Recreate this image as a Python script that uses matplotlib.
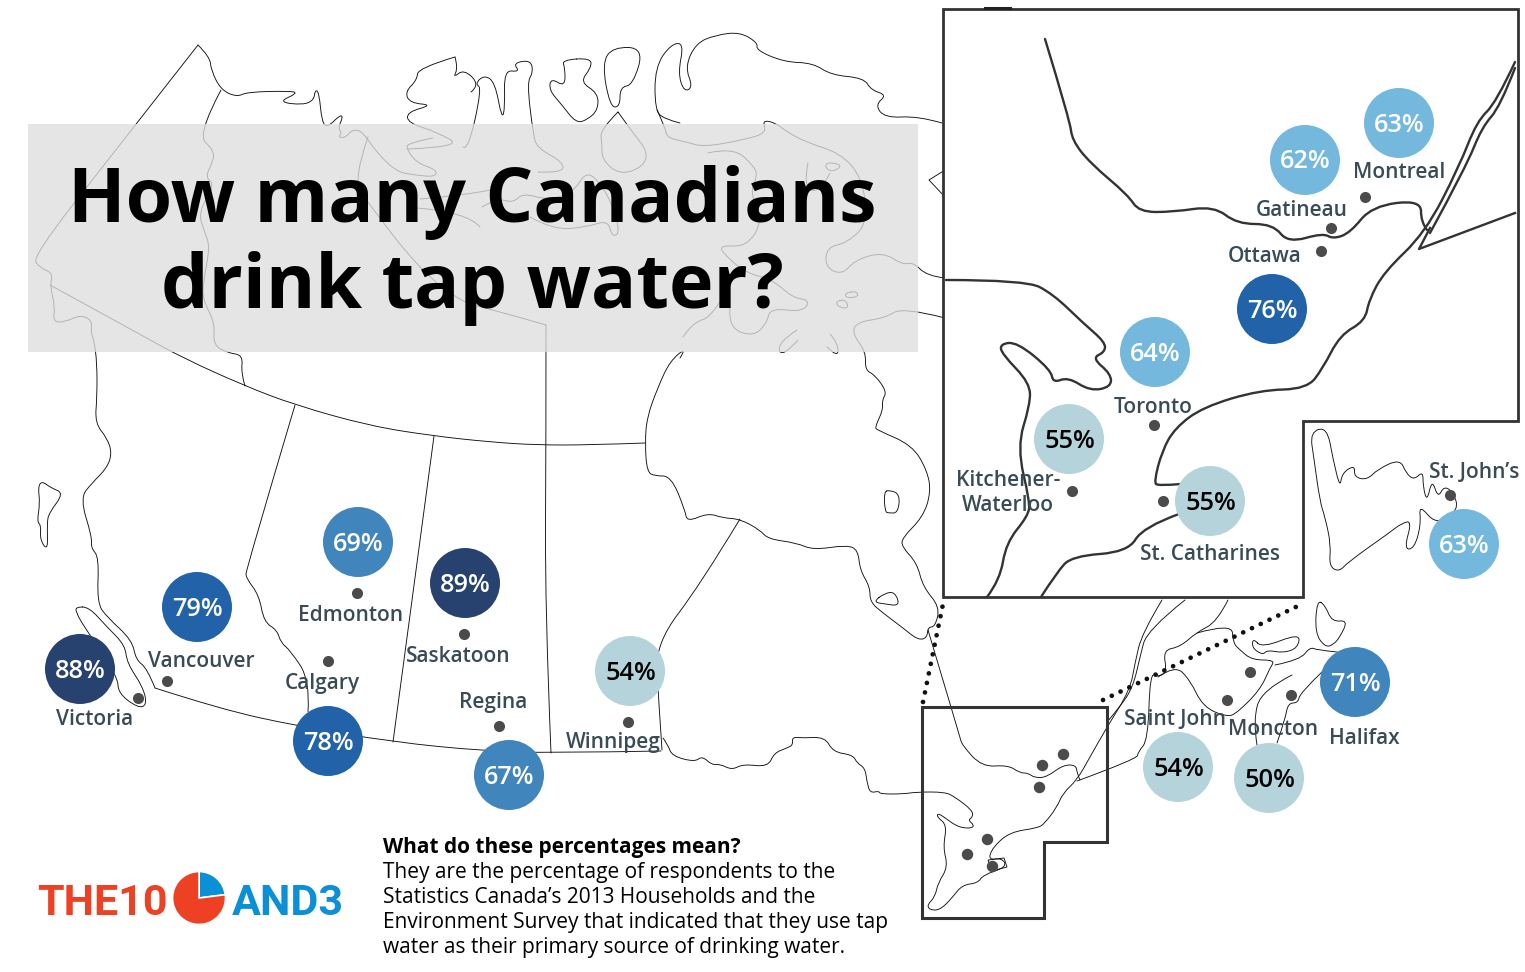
import matplotlib
matplotlib.use("Agg")
import matplotlib.pyplot as plt
from matplotlib.patches import Polygon, Rectangle, PathPatch
from matplotlib.path import Path

plt.rcParams['font.family'] = ['Open Sans', 'DejaVu Sans']

# cities
cities = ["Victoria", "Vancouver", "Calgary", "Edmonton", "Saskatoon", "Regina", "Winnipeg",
          "Gatineau", "Montreal", "Ottawa", "Toronto", "Kitchener-\nWaterloo", "St. Catharines",
          "St. John\u2019s", "Saint John", "Moncton", "Halifax"]
pct = [88, 79, 78, 69, 89, 67, 54, 62, 63, 76, 64, 55, 55, 63, 54, 50, 71]
bubble_x = [80, 197, 328, 358, 465, 509, 630, 1305, 1399, 1272, 1155, 1069, 1210, 1464, 1178, 1269, 1355]
bubble_y = [669, 607, 741, 542, 583, 775, 671, 160, 123, 309, 352, 439, 501, 544, 767, 778, 682]
dot_x = [138, 167, 328, 357, 464, 499, 628, 1331, 1365, 1321, 1154, 1072, 1163, 1450, 1250, 1227, 1291]
dot_y = [698, 681, 661, 593, 634, 726, 722, 228, 197, 251, 425, 491, 501, 495, 672, 700, 695]
label_x = [95, 201, 322, 351, 458, 493, 613, 1302, 1399, 1265, 1153, 1008, 1210, 1474, 1175, 1273, 1364]
label_y = [717, 659, 681, 613, 654, 700, 740, 208, 171, 254, 405, 491, 552, 470, 717, 727, 736]

# dots on the small locator map
small_x = [1063, 1042, 1039, 987, 967, 992]
small_y = [754, 765, 787, 839, 854, 866]

logo_shares = [23, 77]

# main map outlines
north_bc = [(50, 285), (143, 336), (183, 358), (245, 386), (295, 405), (370, 426), (434, 436), (490, 442), (536, 445), (590, 445), (645, 443)]
alaska = [(198, 45), (115, 151), (32, 257), (40, 268), (53, 273), (50, 285), (55, 307), (53, 322), (65, 322), (80, 315), (92, 320), (91, 333), (94, 340),
          (97, 363), (97, 397), (95, 423), (107, 438), (112, 453), (107, 468), (92, 483), (80, 498), (92, 537), (91, 548), (99, 557),
          (97, 603), (107, 617), (132, 640), (136, 660), (147, 668), (155, 688)]
border_49 = [(155, 688), (220, 709), (297, 726), (393, 742), (484, 751), (551, 753), (661, 751)]
arctic_west = [(198, 45), (210, 57), (211, 70), (221, 90), (237, 97), (247, 92), (290, 91), (298, 93), (278, 102), (303, 105), (314, 100),
               (315, 90), (319, 92), (322, 123), (328, 127), (340, 115), (343, 117), (338, 128), (342, 133), (338, 137), (345, 138),
               (353, 129), (363, 132), (377, 153), (397, 172), (415, 175), (435, 177), (437, 170), (417, 163), (407, 150), (407, 143), (433, 138)]
yukon = [(221, 90), (197, 135), (214, 150), (213, 162), (205, 177), (215, 185), (198, 212), (205, 233), (210, 247), (203, 283), (203, 300),
         (215, 323), (213, 345), (228, 353), (243, 355), (241, 373), (245, 386)]
nunavut = [(368, 137), (353, 180), (368, 203), (420, 270), (463, 303), (487, 308), (546, 325)]
sask_man = [(546, 325), (546, 445), (545, 607), (551, 753)]
sask_ab = [(434, 436), (393, 742)]
alberta = [(295, 405), (246, 570), (246, 578), (259, 595), (264, 622), (277, 630), (281, 643), (290, 650), (310, 680), (308, 712)]
man_ont = [(740, 519), (700, 585), (656, 643), (658, 692), (662, 750)]
hudson = [(680, 358), (687, 347), (670, 361), (658, 387), (647, 417), (645, 443), (647, 472), (655, 476), (671, 476), (685, 510), (687, 522),
          (708, 513), (723, 518), (740, 519), (760, 530), (768, 539), (797, 543), (813, 550), (847, 545), (858, 550), (860, 570),
          (870, 587), (870, 602), (883, 613), (903, 628), (918, 640), (927, 638), (928, 627), (935, 627), (940, 607), (923, 587),
          (917, 563), (902, 547), (902, 538), (923, 517), (931, 492), (927, 470), (912, 445), (877, 430), (875, 427), (883, 410),
          (882, 400), (887, 392), (875, 375), (865, 370), (866, 352), (852, 333), (857, 322), (885, 318), (903, 307), (945, 318)]
james_island = [(873, 602), (885, 593), (895, 592), (900, 606), (885, 604)]
hudson_island = [(884, 492), (889, 490), (900, 494), (898, 513), (889, 513), (885, 512)]
ontario_south = [(663, 738), (668, 745), (672, 756), (695, 762), (702, 756), (712, 765), (720, 764), (732, 770), (743, 764), (768, 767),
                 (774, 753), (787, 748), (793, 745), (792, 737), (803, 738), (825, 737), (833, 752), (853, 755), (857, 763), (865, 768),
                 (867, 782), (870, 793), (879, 791), (880, 794), (903, 794), (917, 792), (945, 792), (955, 797), (972, 810), (973, 817),
                 (968, 820), (974, 825), (972, 828), (963, 828), (955, 825), (948, 820), (938, 813), (937, 817), (947, 825), (943, 847),
                 (948, 867), (938, 883), (935, 897), (927, 905), (930, 910), (940, 910), (952, 898), (962, 885), (978, 883), (983, 875),
                 (1007, 867), (1002, 858), (988, 860), (993, 847), (1010, 832), (1038, 828), (1045, 823), (1057, 807), (1063, 793),
                 (1077, 780), (1090, 757), (1107, 727), (1130, 690), (1135, 663), (1142, 633), (1162, 600)]
lawrence_bank = [(1107, 722), (1120, 707), (1133, 687), (1140, 657), (1147, 630), (1185, 600)]
ottawa_river = [(928, 630), (960, 737), (962, 745), (982, 767), (1008, 765), (1020, 773), (1028, 773), (1035, 778), (1047, 777), (1063, 765),
                (1076, 765), (1077, 773), (1080, 780)]
quebec_east = [(1077, 781), (1137, 759), (1138, 752), (1148, 740), (1150, 673), (1158, 677), (1167, 672), (1163, 650), (1180, 647),
               (1197, 632), (1217, 622), (1228, 600)]
new_brunswick = [(1197, 633), (1232, 623), (1233, 643), (1240, 650), (1252, 660), (1275, 660), (1270, 668), (1260, 690), (1237, 713),
                 (1227, 717), (1203, 707), (1190, 680), (1175, 665), (1158, 677)]
nova_scotia = [(1275, 665), (1300, 660), (1310, 647), (1317, 650), (1337, 652)]
ns_south = [(1322, 672), (1300, 693), (1298, 703), (1288, 703), (1285, 720), (1277, 743)]
fundy = [(1292, 675), (1262, 690), (1253, 720), (1257, 745)]
pei = [(1253, 638), (1262, 648), (1300, 633), (1298, 648), (1283, 653), (1267, 650), (1263, 655), (1252, 648)]
cape_breton = [(1317, 600), (1325, 605), (1332, 622), (1348, 620), (1340, 637), (1333, 645), (1325, 647), (1315, 633)]
van_island = [(76, 607), (89, 607), (107, 627), (125, 645), (127, 663), (143, 687), (147, 705), (138, 708), (118, 693), (118, 677), (83, 625), (76, 612)]
haida = [(42, 481), (51, 488), (64, 493), (49, 513), (47, 523), (48, 551), (40, 540), (41, 525), (37, 522), (40, 503), (38, 487)]

# arctic islands, most of them sit behind the title panel
arctic_a = [(455, 57), (458, 68), (453, 78), (464, 69), (480, 85), (471, 92)]
arctic_a2 = [(455, 57), (418, 68), (417, 80), (405, 92), (410, 103), (433, 105), (407, 112), (408, 123), (437, 132), (463, 147), (407, 149)]
arctic_b = [(463, 147), (468, 151), (482, 88), (475, 84), (484, 75), (495, 82), (502, 120), (505, 107), (504, 70), (520, 72), (513, 63),
            (531, 60), (533, 73), (527, 82), (533, 133), (537, 148), (563, 162), (563, 173), (538, 172)]
arctic_c = [(562, 60), (591, 58), (591, 68), (580, 82), (598, 93), (598, 110), (587, 120), (576, 123), (562, 105), (549, 90), (551, 78), (565, 87), (565, 68)]
arctic_d = [(613, 47), (644, 48), (633, 85), (620, 87), (620, 107), (610, 107), (602, 63)]
arctic_e = [(618, 112), (633, 133), (648, 152), (643, 167), (620, 175), (602, 160), (602, 143), (600, 130), (618, 112)]
arctic_f = [(680, 123), (664, 119), (655, 110), (655, 67), (671, 44), (684, 43), (678, 73), (684, 92), (693, 87), (685, 67), (696, 43), (716, 35),
            (740, 32), (758, 43), (756, 50), (784, 62), (813, 63), (831, 75), (864, 78), (871, 90), (887, 95), (875, 105), (885, 118), (918, 116), (942, 123)]
arctic_g = [(657, 110), (665, 127), (667, 138), (687, 142), (703, 147), (743, 140), (767, 133), (762, 120), (776, 123), (787, 132), (808, 143),
            (840, 153), (862, 177), (868, 223), (847, 243), (827, 247), (825, 267), (842, 275), (855, 260), (883, 252), (903, 265), (913, 262), (927, 276), (945, 278)]
arctic_h = [(708, 153), (733, 147), (755, 167), (757, 177), (750, 193), (763, 220), (747, 247), (717, 245), (730, 260), (747, 273), (773, 280),
            (793, 298), (810, 300), (803, 312), (770, 308), (767, 323), (753, 337), (728, 327), (730, 307)]
arctic_i = [(683, 337), (693, 322), (713, 317), (733, 280)]
arctic_j = [(482, 207), (497, 198), (513, 203), (523, 193), (547, 200), (573, 193), (587, 170), (603, 187), (613, 207), (620, 233), (612, 237),
            (608, 220), (587, 227), (553, 230), (530, 217)]
arctic_k = [(420, 199), (467, 195), (490, 190)]
arctic_l = [(417, 208), (467, 212), (480, 227)]
arctic_m = [(827, 162), (843, 165), (833, 172), (825, 168)]
arctic_n = [(808, 163), (803, 187), (820, 193), (830, 173)]
arctic_o = [(797, 330), (777, 343), (782, 358), (798, 340)]
arctic_p = [(830, 334), (838, 343), (838, 358), (827, 347)]
arctic_q = [(945, 170), (929, 180), (945, 197)]
arctic_r = [(845, 293), (857, 291), (858, 297), (846, 298)]
arctic_s = [(835, 302), (845, 299), (849, 308), (840, 308)]

main_lines = [north_bc, alaska, border_49, arctic_west, yukon, nunavut, sask_man, sask_ab, alberta, man_ont, hudson, ontario_south,
              lawrence_bank, ottawa_river, quebec_east, new_brunswick, nova_scotia, ns_south, fundy, arctic_a, arctic_a2, arctic_b,
              arctic_e, arctic_f, arctic_g, arctic_h, arctic_i, arctic_j, arctic_k, arctic_l, arctic_n, arctic_o, arctic_p]
closed_lines = [pei, cape_breton, van_island, haida, james_island, hudson_island, arctic_c, arctic_d, arctic_m, arctic_r, arctic_s]

# southern Ontario / Quebec inset
inset_box = [(943, 9), (1518, 9), (1518, 421), (1303, 421), (1303, 597), (943, 597)]
inset_ottawa = [(1045, 39), (1070, 121), (1072, 140), (1090, 163), (1128, 195), (1139, 212), (1173, 212), (1214, 206), (1237, 224), (1273, 224),
                (1288, 243), (1323, 233), (1333, 239), (1350, 233), (1372, 206), (1421, 200), (1421, 222), (1427, 230)]
inset_lawrence = [(1515, 62), (1496, 103), (1477, 121), (1459, 167), (1425, 233), (1384, 272), (1369, 300), (1365, 321), (1340, 335), (1323, 368),
                  (1307, 389), (1260, 390), (1203, 407), (1175, 428), (1162, 451), (1154, 482), (1158, 486), (1181, 484)]
inset_bank = [(1515, 68), (1500, 107), (1482, 127), (1466, 167), (1430, 233)]
inset_quebec = [(1430, 228), (1419, 249), (1515, 213)]
inset_huron = [(946, 280), (1026, 280), (1053, 294), (1083, 323), (1105, 342), (1105, 352), (1092, 358), (1111, 374), (1111, 387), (1090, 391),
               (1068, 377), (1053, 383), (1051, 370), (1017, 342), (1000, 344), (1002, 354), (1030, 383), (1030, 405), (1017, 447),
               (1030, 502), (1028, 516), (1006, 543), (1000, 580), (987, 597)]
inset_erie = [(1179, 514), (1143, 527), (1128, 552), (1072, 556), (1057, 572), (1041, 597)]
inset_lines = [inset_ottawa, inset_lawrence, inset_bank, inset_huron, inset_erie]

newfoundland = [(1310, 432), (1327, 427), (1333, 459), (1340, 488), (1342, 473), (1355, 465), (1354, 477), (1367, 480), (1378, 469), (1400, 459),
                (1406, 473), (1414, 480), (1423, 471), (1423, 486), (1427, 502), (1432, 479), (1438, 498), (1444, 486), (1453, 492), (1459, 510),
                (1436, 525), (1419, 504), (1421, 525), (1414, 549), (1404, 549), (1412, 521), (1402, 523), (1389, 533), (1348, 562), (1339, 572),
                (1329, 566), (1331, 545), (1325, 517), (1320, 502), (1314, 459)]

locator_box = [(922, 707), (1107, 707), (1107, 842), (1044, 842), (1044, 918), (922, 918)]
niagara_box = [(988, 860), (1004, 858), (1007, 867), (992, 871)]
dotted_left = [(923, 702), (943, 604)]
dotted_right = [(1103, 700), (1300, 605)]
top_tick = [(985, 8), (1010, 8)]

panel_left, panel_top, panel_width, panel_height = 28, 124, 890, 228

note_head = "What do these percentages mean?"
note_lines = ["They are the percentage of respondents to the",
              "Statistics Canada\u2019s 2013 Households and the",
              "Environment Survey that indicated that they use tap",
              "water as their primary source of drinking water."]


def bubble_colour(p):
    if p >= 85:
        return "#27426f"
    if p >= 75:
        return "#2162a8"
    if p >= 65:
        return "#4085bb"
    if p >= 60:
        return "#74b8de"
    return "#b5d3db"


def draw_curve(ax, pts, closed=False, **kw):
    # the traced points are used as quadratic control points so the coast looks drawn, not ruled
    if closed:
        pts = list(pts) + [pts[0], pts[1]]
        start = ((pts[0][0] + pts[1][0]) / 2, (pts[0][1] + pts[1][1]) / 2)
        verts, codes = [start], [Path.MOVETO]
        inner = pts[1:]
    else:
        start = pts[0]
        verts, codes = [start], [Path.MOVETO]
        inner = pts[1:]
    for i in range(len(inner) - 1):
        mid = ((inner[i][0] + inner[i + 1][0]) / 2, (inner[i][1] + inner[i + 1][1]) / 2)
        if not closed and i == len(inner) - 2:
            mid = inner[i + 1]
        verts += [inner[i], mid]
        codes += [Path.CURVE3, Path.CURVE3]
    if len(pts) == 2:
        verts, codes = list(pts), [Path.MOVETO, Path.LINETO]
    ax.add_patch(PathPatch(Path(verts, codes), fill=False, capstyle="round", joinstyle="round", **kw))


fig = plt.figure(figsize=(15.25, 9.72), dpi=100)
ax = fig.add_axes([0, 0, 1, 1])
ax.set_xlim(0, 1525)
ax.set_ylim(972, 0)
ax.axis("off")

for line in main_lines:
    draw_curve(ax, line, edgecolor="#111111", lw=0.65, zorder=1)
for shape in closed_lines:
    draw_curve(ax, shape, closed=True, edgecolor="#111111", lw=0.65, zorder=1)
ax.plot([p[0] for p in arctic_q], [p[1] for p in arctic_q], color="#111111", lw=0.65, zorder=1)

# see-through title panel
ax.add_patch(Rectangle((panel_left, panel_top), panel_width, panel_height, facecolor="#dedede", alpha=0.78, edgecolor="none", zorder=2))
ax.text(472, 222, "How many Canadians", fontsize=54.2, fontweight="bold", ha="center", va="baseline", color="black", zorder=8)
ax.text(472, 308, "drink tap water?", fontsize=54.2, fontweight="bold", ha="center", va="baseline", color="black", zorder=8)

# inset sits on top of the map
ax.add_patch(Polygon(inset_box, closed=True, facecolor="white", edgecolor="#333333", lw=2.0, zorder=3))
ax.plot([p[0] for p in top_tick], [p[1] for p in top_tick], color="#222222", lw=2.2, zorder=4)
for line in inset_lines:
    draw_curve(ax, line, edgecolor="#333333", lw=1.7, zorder=4)
ax.plot([p[0] for p in inset_quebec], [p[1] for p in inset_quebec], color="#333333", lw=1.7, zorder=4)
draw_curve(ax, newfoundland, closed=True, edgecolor="#111111", lw=0.65, zorder=4)

ax.add_patch(Polygon(locator_box, closed=True, fill=False, edgecolor="#333333", lw=2.2, zorder=4))
ax.add_patch(Polygon(niagara_box, closed=True, fill=False, edgecolor="#111111", lw=0.65, zorder=4))
for line in [dotted_left, dotted_right]:
    ax.plot([p[0] for p in line], [p[1] for p in line], color="#111111", lw=3.4, linestyle=(0, (0.01, 2.05)),
            dash_capstyle="round", zorder=4)

ax.scatter(small_x, small_y, s=68, color="#4d4a4a", linewidths=0, zorder=5)
ax.scatter(dot_x, dot_y, s=64, color="#4d4a4a", linewidths=0, zorder=5)
ax.scatter(bubble_x, bubble_y, s=2540, c=[bubble_colour(p) for p in pct], linewidths=0, zorder=6)

for i, city in enumerate(cities):
    tc = "black" if pct[i] < 60 else "white"
    ax.text(bubble_x[i] + 0.5, bubble_y[i] - 1, str(pct[i]) + "%", fontsize=18.3, fontweight="semibold", ha="center", va="center_baseline", color=tc, zorder=7)
    ax.text(label_x[i], label_y[i] + 2, city, fontsize=15, fontweight="semibold", ha="center", va="center", color="#3a4b55", linespacing=1.2, zorder=7)

# logo
ax.text(37, 915, "THE10", fontsize=31, fontweight="bold", family=["Roboto", "Liberation Sans"], color="#ee4023", ha="left", va="baseline")
ax.text(232, 915, "AND3", fontsize=31, fontweight="bold", family=["Roboto", "Liberation Sans"], color="#0b8fd6", ha="left", va="baseline")
logo_ax = fig.add_axes([172 / 1525, 1 - 925 / 972, 54 / 1525, 54 / 972])
logo_ax.pie(logo_shares, colors=["#0b8fd6", "#ee4023"], startangle=90, counterclock=False, radius=1.0,
            wedgeprops={"edgecolor": "white", "linewidth": 1.2})
logo_ax.set_xlim(-1.02, 1.02)
logo_ax.set_ylim(-1.02, 1.02)

# note under the map
ax.text(383, 847, note_head, fontsize=15, fontweight="bold", color="black", ha="left", va="center")
for i, line in enumerate(note_lines):
    ax.text(383, 872 + i * 25, line, fontsize=15, color="black", ha="left", va="center")

fig.savefig("out.png", dpi=100)
